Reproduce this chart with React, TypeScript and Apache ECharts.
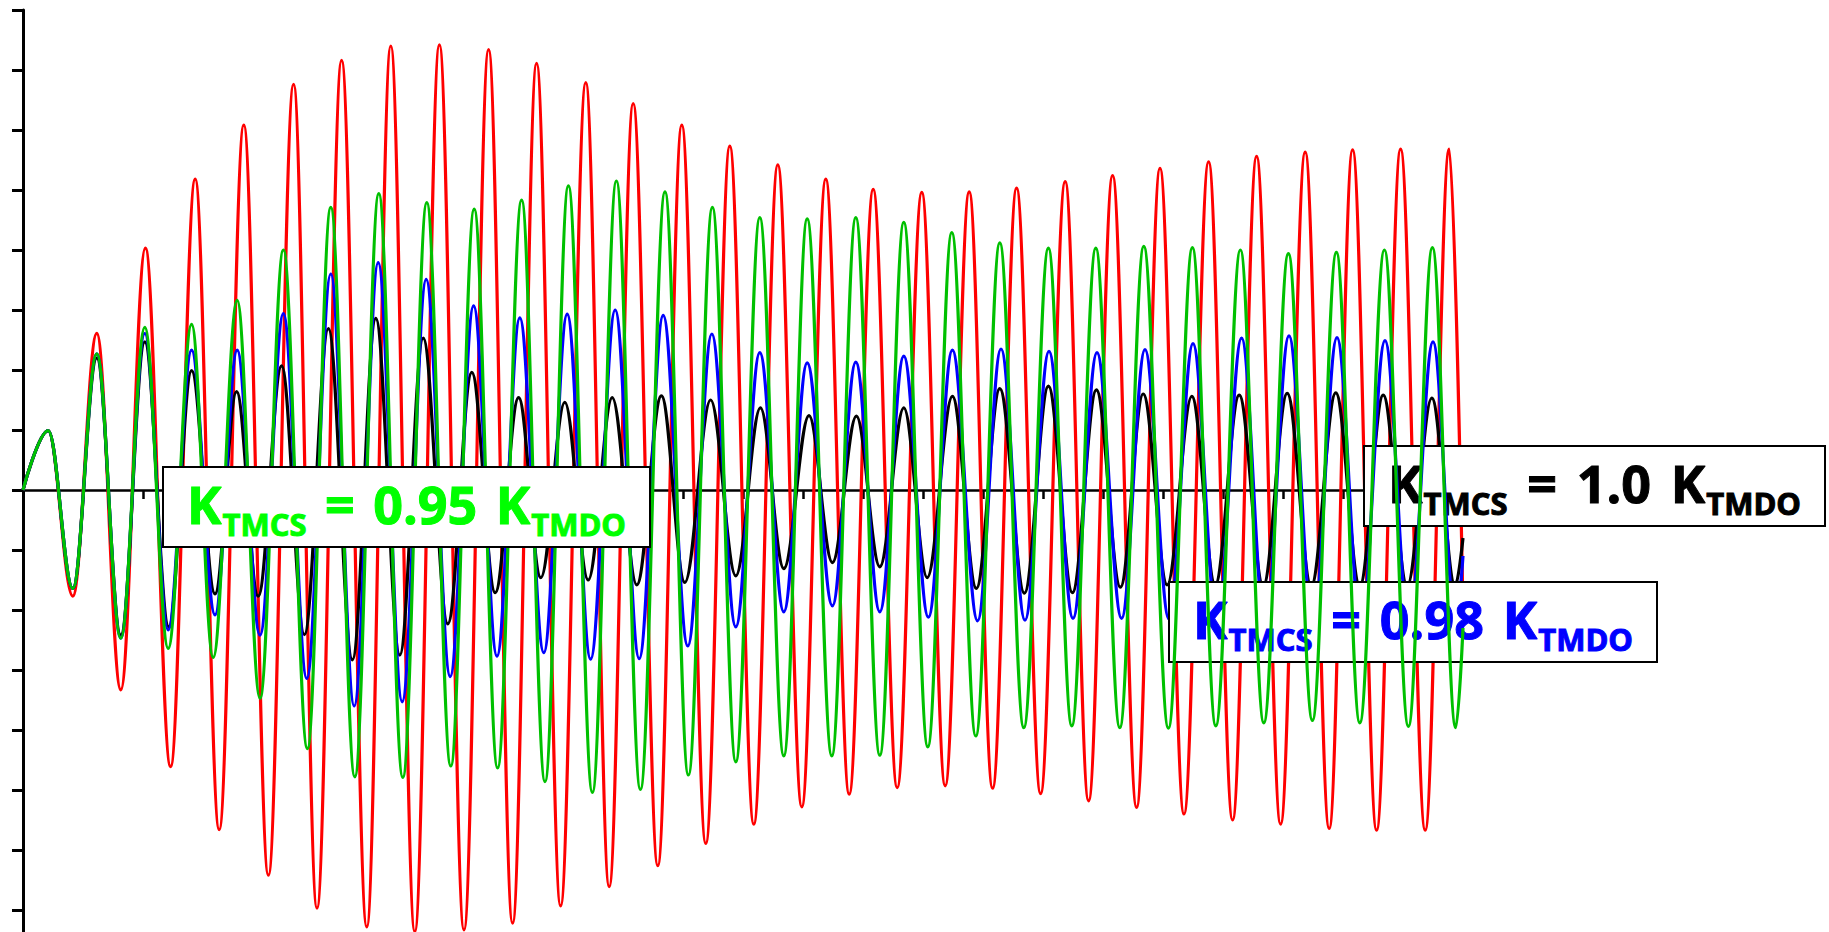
import React, { useEffect, useRef } from "react";
import * as echarts from "echarts";

// ---- data: extrema [time, value] (axis units) ----
const xRange = { min: 0, max: 24, interval: 1 };
const yRange = { min: -8, max: 8, interval: 1 };

const redPoints: [number, number][] = [
  [0, 0], [0.42, 0.99], [0.83, -1.77], [1.23, 2.61], [1.63, -3.33], [2.04, 4.03], [2.46, -4.61],
  [2.87, 5.18], [3.27, -5.66], [3.68, 6.08], [4.09, -6.42], [4.51, 6.76], [4.9, -6.97], [5.31, 7.16],
  [5.73, -7.28], [6.13, 7.4], [6.53, -7.36], [6.94, 7.42], [7.35, -7.33], [7.76, 7.34], [8.16, -7.22],
  [8.56, 7.11], [8.96, -6.93], [9.38, 6.79], [9.77, -6.61], [10.17, 6.44], [10.58, -6.26], [10.98, 6.08],
  [11.38, -5.89], [11.78, 5.73], [12.18, -5.57], [12.58, 5.42], [12.98, -5.28], [13.38, 5.18],
  [13.77, -5.07], [14.17, 5.01], [14.57, -4.96], [14.98, 4.96], [15.37, -4.93], [15.77, 4.97],
  [16.16, -4.97], [16.56, 5.03], [16.96, -5.06], [17.37, 5.14], [17.76, -5.18], [18.16, 5.24],
  [18.56, -5.29], [18.95, 5.36], [19.35, -5.4], [19.76, 5.47], [20.16, -5.5], [20.56, 5.56],
  [20.96, -5.57], [21.37, 5.63], [21.77, -5.64], [22.16, 5.67], [22.56, -5.67], [22.96, 5.68],
  [23.37, -5.67], [23.77, 5.68], [24.0, -2.0],
];

const greenPoints: [number, number][] = [
  [0, 0], [0.42, 0.99], [0.83, -1.64], [1.23, 2.27], [1.63, -2.47], [2.03, 2.71], [2.42, -2.64],
  [2.81, 2.76], [3.17, -2.79], [3.57, 3.16], [3.95, -3.47], [4.34, 4.0], [4.74, -4.31], [5.13, 4.71],
  [5.53, -4.78], [5.93, 4.94], [6.33, -4.79], [6.73, 4.79], [7.13, -4.6], [7.52, 4.68], [7.91, -4.63],
  [8.31, 4.83], [8.7, -4.86], [9.09, 5.07], [9.49, -5.04], [9.89, 5.15], [10.29, -4.99], [10.7, 4.97],
  [11.09, -4.75], [11.49, 4.71], [11.88, -4.53], [12.28, 4.54], [12.68, -4.43], [13.07, 4.52],
  [13.48, -4.43], [13.88, 4.54], [14.28, -4.42], [14.68, 4.46], [15.08, -4.28], [15.48, 4.29],
  [15.88, -4.1], [16.28, 4.12], [16.68, -3.96], [17.09, 4.03], [17.48, -3.93], [17.88, 4.03],
  [18.28, -3.96], [18.68, 4.06], [19.09, -3.97], [19.49, 4.04], [19.88, -3.93], [20.29, 4.0],
  [20.68, -3.88], [21.09, 3.94], [21.49, -3.84], [21.89, 3.96], [22.28, -3.88], [22.69, 4.0],
  [23.09, -3.94], [23.49, 4.04], [23.88, -3.96], [24.0, -2.3],
];

const bluePoints: [number, number][] = [
  [0, 0], [0.42, 0.99], [0.83, -1.64], [1.23, 2.27], [1.63, -2.47], [2.03, 2.61], [2.42, -2.33],
  [2.81, 2.33], [3.2, -2.08], [3.57, 2.33], [3.95, -2.42], [4.34, 2.94], [4.73, -3.14], [5.13, 3.6],
  [5.52, -3.6], [5.92, 3.79], [6.32, -3.53], [6.72, 3.51], [7.12, -3.11], [7.51, 3.07], [7.9, -2.77],
  [8.28, 2.87], [8.68, -2.71], [9.07, 2.93], [9.46, -2.82], [9.87, 3.0], [10.27, -2.81], [10.67, 2.91],
  [11.08, -2.6], [11.48, 2.6], [11.88, -2.28], [12.28, 2.29], [12.68, -2.03], [13.07, 2.12],
  [13.49, -1.93], [13.88, 2.13], [14.28, -2.03], [14.68, 2.23], [15.09, -2.12], [15.49, 2.33],
  [15.91, -2.18], [16.3, 2.35], [16.7, -2.17], [17.1, 2.31], [17.5, -2.14], [17.9, 2.29],
  [18.31, -2.14], [18.7, 2.34], [19.1, -2.15], [19.5, 2.44], [19.9, -2.2], [20.31, 2.53],
  [20.7, -2.25], [21.1, 2.57], [21.5, -2.25], [21.9, 2.54], [22.3, -2.25], [22.7, 2.49],
  [23.1, -2.25], [23.5, 2.47], [23.88, -2.2], [24.0, -1.1],
];

const blackPoints: [number, number][] = [
  [0, 0], [0.42, 0.99], [0.83, -1.64], [1.23, 2.2], [1.63, -2.42], [2.03, 2.47], [2.43, -2.28],
  [2.81, 1.99], [3.2, -1.73], [3.56, 1.64], [3.92, -1.77], [4.31, 2.07], [4.69, -2.41], [5.09, 2.69],
  [5.49, -2.83], [5.88, 2.86], [6.28, -2.75], [6.67, 2.53], [7.08, -2.23], [7.48, 1.96], [7.87, -1.71],
  [8.26, 1.54], [8.63, -1.46], [9.03, 1.46], [9.42, -1.5], [9.82, 1.54], [10.23, -1.58], [10.64, 1.57],
  [11.03, -1.54], [11.46, 1.5], [11.88, -1.43], [12.29, 1.37], [12.68, -1.31], [13.1, 1.24],
  [13.49, -1.21], [13.89, 1.23], [14.28, -1.28], [14.68, 1.37], [15.07, -1.46], [15.49, 1.56],
  [15.89, -1.64], [16.28, 1.69], [16.69, -1.72], [17.09, 1.73], [17.49, -1.71], [17.89, 1.67],
  [18.29, -1.62], [18.67, 1.6], [19.07, -1.58], [19.48, 1.56], [19.87, -1.58], [20.27, 1.58],
  [20.67, -1.6], [21.07, 1.61], [21.47, -1.6], [21.88, 1.62], [22.28, -1.6], [22.67, 1.58],
  [23.07, -1.6], [23.48, 1.53], [23.87, -1.6], [24.0, -0.8],
];

const labelValues = { black: "1.0", blue: "0.98", green: "0.95" };
const subscriptA = "TMCS";
const subscriptB = "TMDO";

// ---- layout / style (not data) ----
const W = 1829;
const H = 932;
const GRID = { left: 23, top: 10, width: 1440, height: 960 };
const COLORS = { red: "#ff0000", green: "#00c000", blue: "#0000ff", black: "#000000", greenText: "#00ff00" };
const BOXES = {
  black: { x: 1364, y: 446, w: 461, h: 80 },
  blue: { x: 1169, y: 582, w: 488, h: 80 },
  green: { x: 163, y: 467, w: 487, h: 80 },
};

export default function App() {
  const ref = useRef<HTMLDivElement>(null);

  useEffect(() => {
    document.body.style.margin = "0";
    document.body.style.overflow = "hidden";
    const el = ref.current!;
    const chart = echarts.init(el, undefined, { renderer: "svg" });

    const FONT = '"Open Sans", "DejaVu Sans", sans-serif';
    const BIG = 52;
    const SUB = 31;
    const cv = document.createElement("canvas").getContext("2d")!;
    const measure = (t: string, s: number) => {
      cv.font = `bold ${s}px ${FONT}`;
      return cv.measureText(t).width;
    };

    const makeLabel = (
      box: { x: number; y: number; w: number; h: number },
      value: string,
      color: string,
      z: number
    ) => {
      const frags = [
        { t: "K", s: BIG, gap: false },
        { t: subscriptA, s: SUB, gap: false },
        { t: "=", s: BIG, gap: true },
        { t: value, s: BIG, gap: true },
        { t: "K", s: BIG, gap: true },
        { t: subscriptB, s: SUB, gap: false },
      ];
      const widths = frags.map((f) => measure(f.t, f.s) + 1);
      const total = widths.reduce((a, b) => a + b, 0);
      const target = box.w - 47;
      const gap = (target - total) / 3;
      const base = box.y + 57;
      const els: any[] = [
        {
          type: "rect",
          z,
          shape: { x: box.x, y: box.y, width: box.w, height: box.h },
          style: { fill: "#ffffff", stroke: "#000000", lineWidth: 2 },
        },
      ];
      let x = box.x + 24;
      frags.forEach((f, i) => {
        if (f.gap) x += gap;
        const baseline = f.s === SUB ? base + 12 : base;
        els.push({
          type: "text",
          z: z + 1,
          x,
          y: baseline - 0.388 * f.s,
          style: {
            text: f.t,
            fill: color,
            stroke: color,
            lineWidth: 1,
            font: `bold ${f.s}px ${FONT}`,
            textAlign: "left",
            align: "left",
            textVerticalAlign: "middle",
            verticalAlign: "middle",
          },
        });
        x += widths[i];
      });
      return els;
    };

    const lineSeries = (name: string, data: [number, number][], color: string, z: number) => ({
      name,
      type: "line",
      data,
      z,
      smooth: 0.364,
      smoothMonotone: "x",
      showSymbol: false,
      symbol: "none",
      lineStyle: { color, width: 3.2 },
      emphasis: { disabled: true },
    });

    chart.setOption({
      animation: false,
      backgroundColor: "#ffffff",
      grid: { left: GRID.left, top: GRID.top, width: GRID.width, height: GRID.height },
      xAxis: {
        type: "value",
        min: xRange.min,
        max: xRange.max,
        interval: xRange.interval,
        axisLine: { onZero: true, lineStyle: { color: "#000", width: 2.5 } },
        axisTick: { show: true, length: 9, lineStyle: { color: "#000", width: 2.5 } },
        axisLabel: { show: false },
        splitLine: { show: false },
      },
      yAxis: {
        type: "value",
        min: yRange.min,
        max: yRange.max,
        interval: yRange.interval,
        axisLine: { show: true, lineStyle: { color: "#000", width: 3 } },
        axisTick: { show: true, length: 11, lineStyle: { color: "#000", width: 3 } },
        axisLabel: { show: false },
        splitLine: { show: false },
      },
      series: [
        lineSeries("red", redPoints, COLORS.red, 2),
        lineSeries("black", blackPoints, COLORS.black, 4),
        lineSeries("blue", bluePoints, COLORS.blue, 8),
        lineSeries("green", greenPoints, COLORS.green, 12),
      ],
      graphic: {
        elements: [
          ...makeLabel(BOXES.black, labelValues.black, COLORS.black, 6),
          ...makeLabel(BOXES.blue, labelValues.blue, COLORS.blue, 10),
          ...makeLabel(BOXES.green, labelValues.green, COLORS.greenText, 14),
        ],
      },
    });

    return () => chart.dispose();
  }, []);

  return (
    <div style={{ width: W, height: H, overflow: "hidden", position: "relative", background: "#fff" }}>
      <div ref={ref} style={{ width: W, height: GRID.top + GRID.height }} />
    </div>
  );
}
